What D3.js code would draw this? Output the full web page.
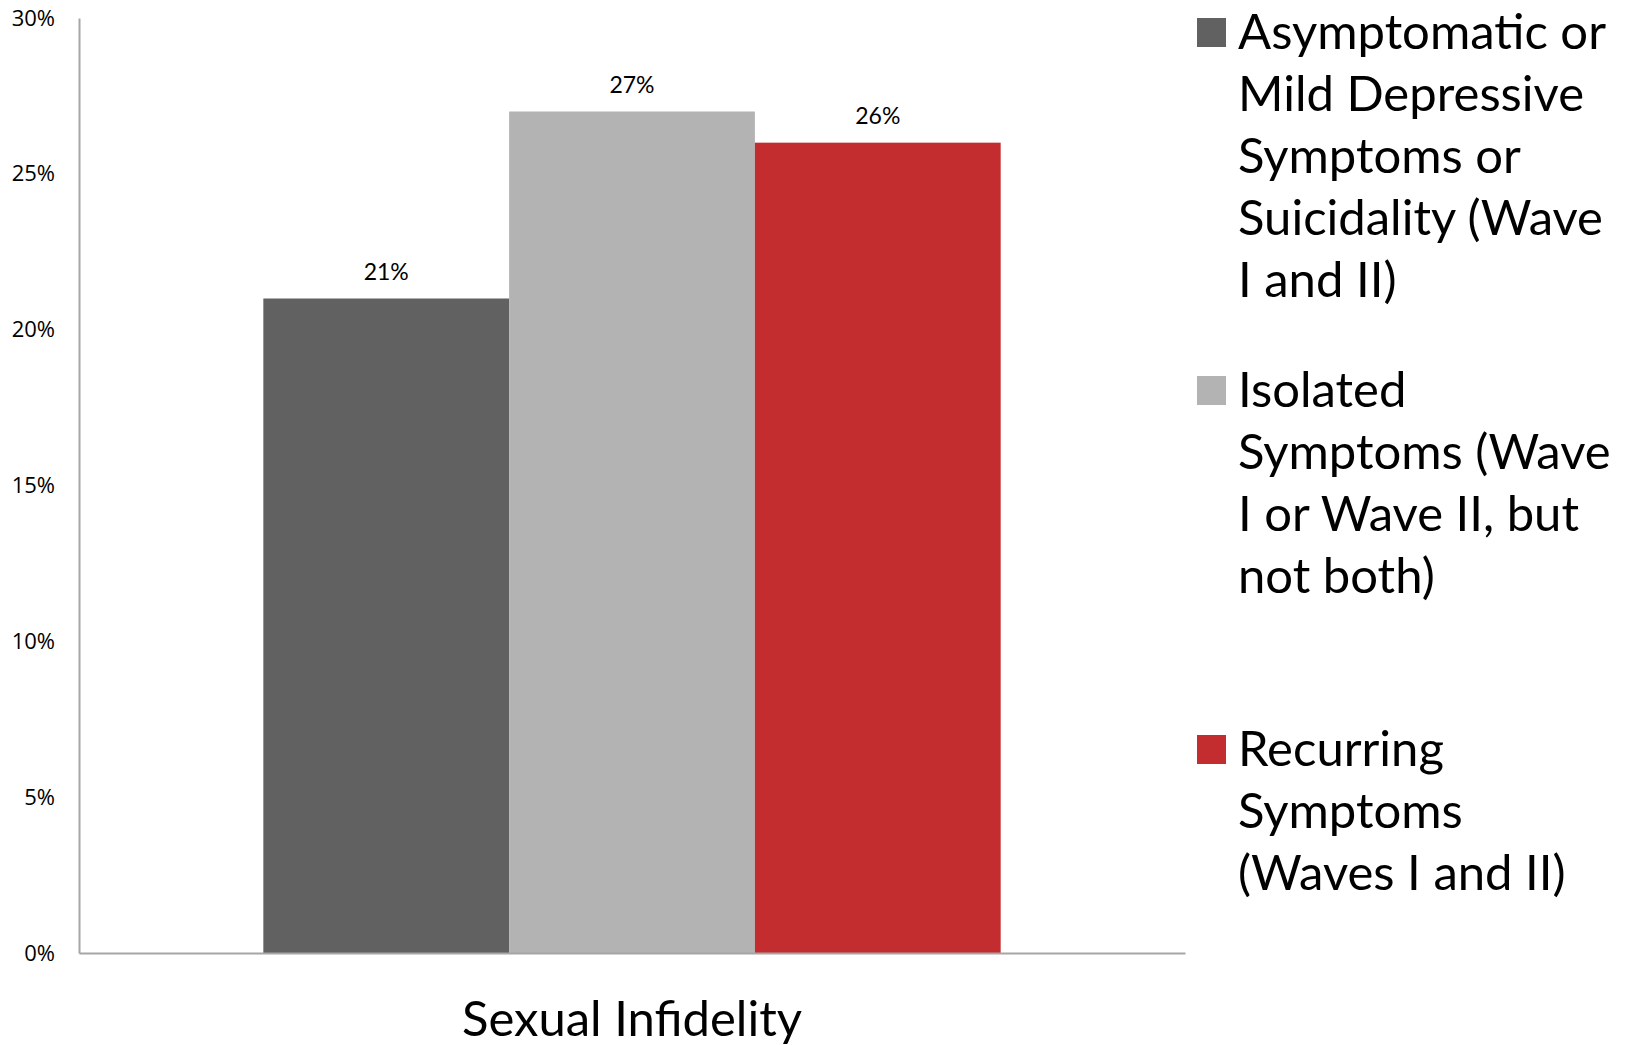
<!DOCTYPE html>
<html>
<head>
<meta charset="utf-8">
<script src="https://cdn.jsdelivr.net/npm/d3@7"></script>
<style>
  html, body { margin: 0; padding: 0; background: #ffffff; }
  svg { display: block; }
</style>
</head>
<body>
<svg id="chart" width="1633" height="1045"></svg>
<script>
// ---- data ----
const categories = ["Sexual Infidelity"];
const seriesNames = [
  "Asymptomatic or Mild Depressive Symptoms or Suicidality (Wave I and II)",
  "Isolated Symptoms (Wave I or Wave II, but not both)",
  "Recurring Symptoms (Waves I and II)"
];
const seriesValues = [0.21, 0.27, 0.26];
const valueLabels = ["21%", "27%", "26%"];
const legendLines = [
  ["Asymptomatic or", "Mild Depressive", "Symptoms or", "Suicidality (Wave", "I and II)"],
  ["Isolated", "Symptoms (Wave", "I or Wave II, but", "not both)"],
  ["Recurring", "Symptoms", "(Waves I and II)"]
];
const yTicks = [0, 0.05, 0.10, 0.15, 0.20, 0.25, 0.30];
const yTickLabels = ["0%", "5%", "10%", "15%", "20%", "25%", "30%"];
const colors = ["#616161", "#b3b3b3", "#c32d2f"];

// ---- layout ----
const svg = d3.select("#chart");
const plot = { left: 79, right: 1185, top: 18, bottom: 953 };

const y = d3.scaleLinear().domain([0, 0.30]).range([plot.bottom, plot.top]);
const x0 = d3.scaleBand().domain(categories).range([plot.left, plot.right])
  .paddingInner(0).paddingOuter(0.25);
const x1 = d3.scaleBand().domain(d3.range(seriesValues.length))
  .range([0, x0.bandwidth()]).padding(0);

// bars
const g = svg.append("g");
categories.forEach(cat => {
  const cg = g.append("g").attr("transform", `translate(${x0(cat)},0)`);
  cg.selectAll("rect").data(seriesValues).join("rect")
    .attr("x", (d, i) => x1(i))
    .attr("y", d => y(d))
    .attr("width", x1.bandwidth())
    .attr("height", d => y(0) - y(d))
    .attr("fill", (d, i) => colors[i]);
  cg.selectAll("text.val").data(seriesValues).join("text")
    .attr("class", "val")
    .attr("x", (d, i) => x1(i) + x1.bandwidth() / 2)
    .attr("y", d => y(d) - 19)
    .attr("text-anchor", "middle")
    .attr("font-family", "Lato, sans-serif")
    .attr("font-size", 23)
    .attr("fill", "#000")
    .text((d, i) => valueLabels[i]);
  // category label
  svg.append("text")
    .attr("x", x0(cat) + x0.bandwidth() / 2)
    .attr("y", 1036)
    .attr("text-anchor", "middle")
    .attr("font-family", "Lato, sans-serif")
    .attr("font-size", 49)
    .attr("fill", "#000")
    .text(cat);
});

// y axis
const yAxis = d3.axisLeft(y).tickValues(yTicks)
  .tickFormat((d, i) => yTickLabels[i]).tickSize(0).tickPadding(24);
const ya = svg.append("g").attr("transform", `translate(${plot.left},0)`).call(yAxis);
ya.select(".domain").attr("stroke", "#a6a6a6").attr("stroke-width", 2);
ya.selectAll("text").attr("font-family", "'Open Sans', sans-serif")
  .attr("font-size", 22).attr("fill", "#000");

// x axis line
const xAxis = d3.axisBottom(x0).tickSize(0).tickFormat("");
const xa = svg.append("g").attr("transform", `translate(0,${plot.bottom})`).call(xAxis);
xa.select(".domain").attr("stroke", "#a6a6a6").attr("stroke-width", 2);

// legend
const legendX = 1197;
const legendStarts = [49, 407, 766];
const lineH = 62;
legendLines.forEach((lines, i) => {
  const lg = svg.append("g");
  lg.append("rect")
    .attr("x", legendX).attr("y", legendStarts[i] - 31)
    .attr("width", 29).attr("height", 29)
    .attr("fill", colors[i]);
  const t = lg.append("text")
    .attr("font-family", "Lato, sans-serif")
    .attr("font-size", 49)
    .attr("fill", "#000");
  lines.forEach((ln, j) => {
    t.append("tspan").attr("x", 1238).attr("y", legendStarts[i] + j * lineH).text(ln);
  });
});
</script>
</body>
</html>
